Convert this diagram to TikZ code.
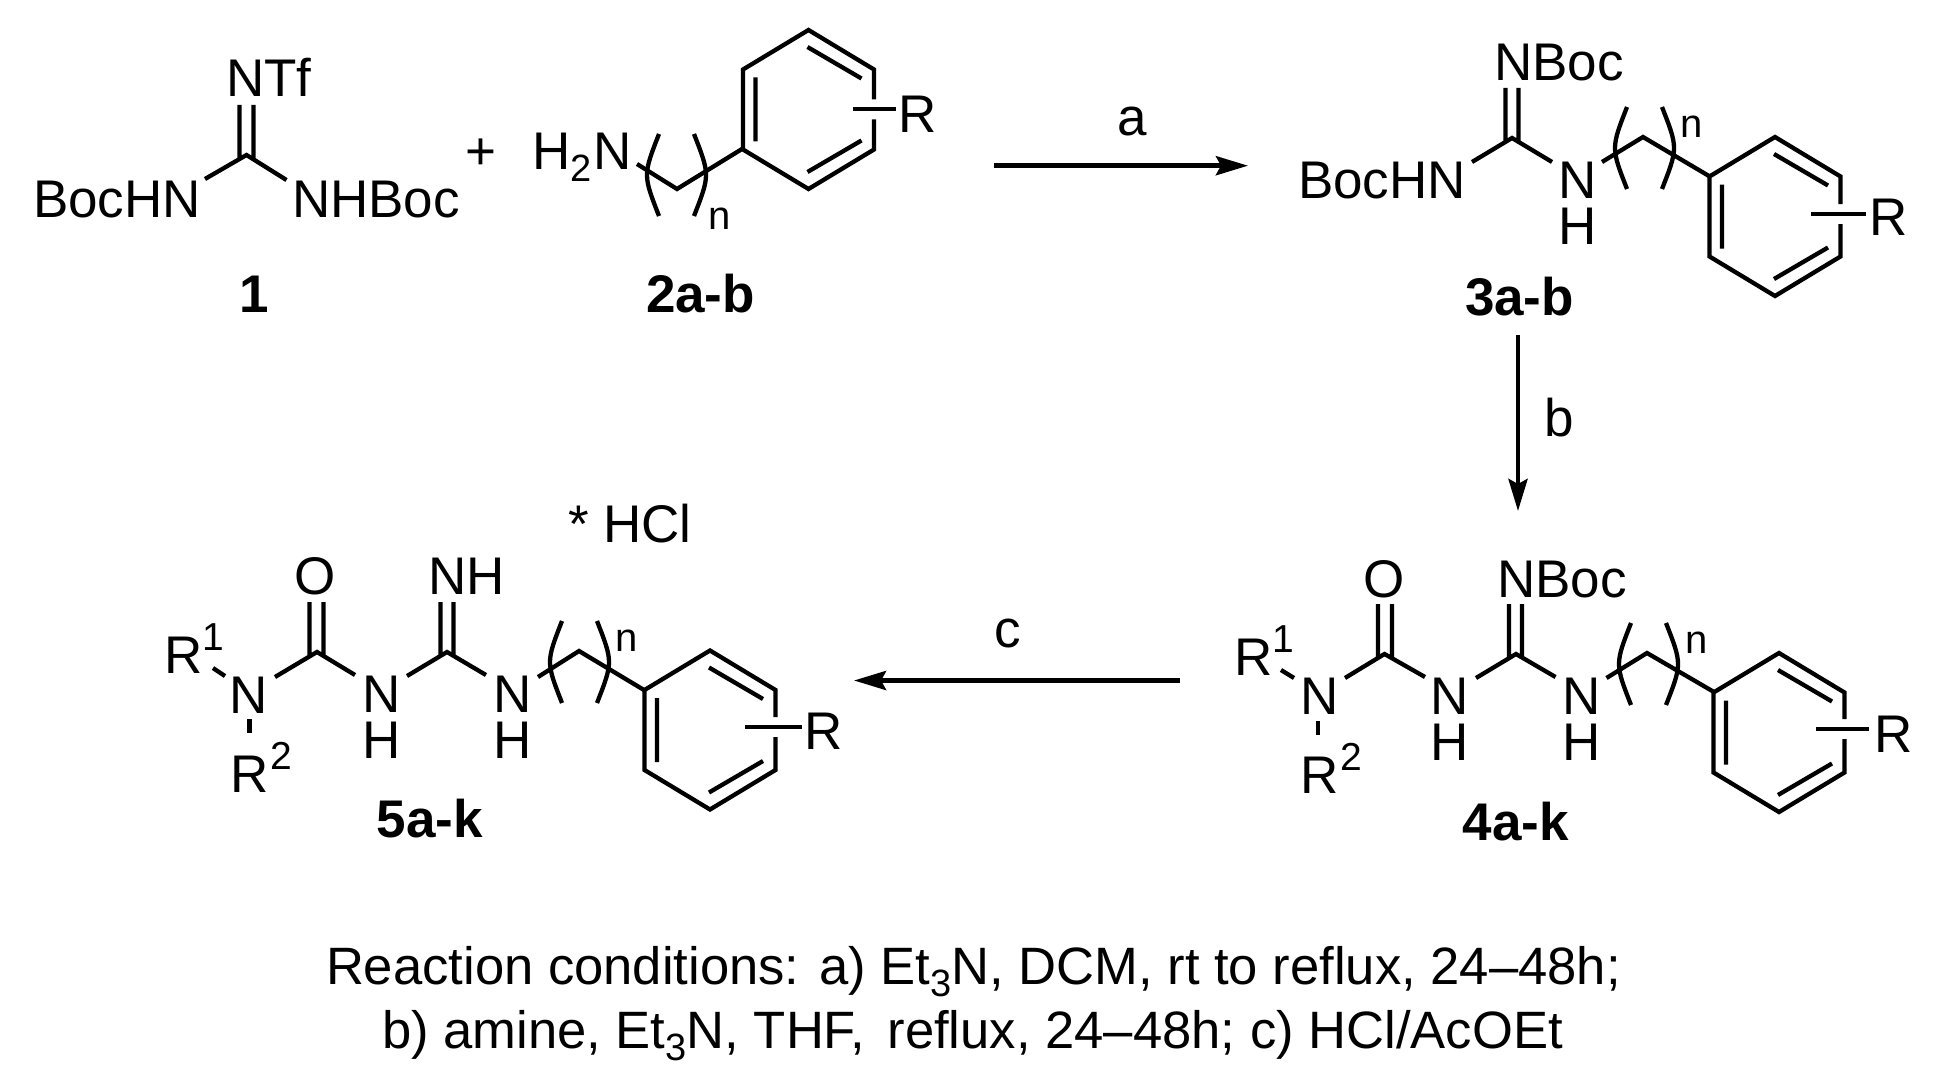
\documentclass[tikz,border=0pt]{standalone}
\usepackage{fontspec}
\setmainfont{Liberation Sans}
\usetikzlibrary{arrows.meta}
\tikzset{
  bond/.style={line width=4.3pt},
  rxn/.style={line width=4.6pt, -{Stealth[length=32pt, width=19pt, inset=5pt]}},
  atom/.style={font=\fontsize{53}{60}\selectfont, inner sep=0pt, outer sep=0pt, anchor=base},
  atomw/.style={atom, anchor=base west},
  idx/.style={font=\fontsize{40}{48}\selectfont, inner sep=0pt, outer sep=0pt, anchor=base west},
  cmpd/.style={atom, font=\fontsize{53}{60}\selectfont\bfseries},
  note/.style={atomw, font=\fontsize{52.6}{60}\selectfont}
}
\newcommand{\lowidx}[1]{\raisebox{-12pt}{\fontsize{38}{38}\selectfont #1}}
\newcommand{\upidx}[1]{\raisebox{23pt}{\fontsize{39}{39}\selectfont #1}}
% ring centre x, ring centre y, height of the R bond
\newcommand{\phring}[3]{
\begin{scope}[shift={(#1,#2)}]
\draw[bond] (65.5,#3-10) -- (65.5,-40) -- (0,-79.5) -- (-65.5,-40) -- (-65.5,40) -- (0,79.5) -- (65.5,40) -- (65.5,#3+10);
\draw[bond] (-1,-62.5) -- (53,-31)
(-53,-32) -- (-53,32)
(-1,62.5) -- (53,31);
\end{scope}}
% centre of the pair of brackets
\newcommand{\chainbrk}[2]{
\begin{scope}[shift={(#1,#2)}]
\draw[bond] (-17.5,-41) .. controls (-33.5,0) .. (-17.5,41)
(17.5,-41) .. controls (33.5,0) .. (17.5,41);
\end{scope}}
\begin{document}
\begin{tikzpicture}[x=1pt, y=-1pt]
\useasboundingbox (0,0) rectangle (1933,1089);

% 1
\draw[bond] (205,179) -- (246.5,155) -- (286.5,180)
(239.5,105) -- (239.5,158)
(253.5,105) -- (253.5,158);
\node[atomw] (tfn) at (226,97) {NTf};
\node[atomw] (bocl) at (33,217) {BocHN};
\node[atomw] (bocr) at (292,217) {NHBoc};
\node[atom] (plus) at (481,170) {+};
\node[cmpd] (lab1) at (254,312) {1};

% 2
\node[atomw] (amine) at (532,170) {H\lowidx{2}\kern2ptN};
\draw[bond] (637,164) -- (677,189) -- (742,149);
\chainbrk{676.5}{175}
\node[idx] (n2) at (708,229) {n};
\phring{808.5}{109.5}{0}
\draw[bond] (853,109) -- (896,109);
\node[atomw] (r2) at (898,132) {R};
\node[cmpd] (lab2) at (700.5,312) {2a-b};

% a
\coordinate (a0) at (994,165.7);
\coordinate (a1) at (1248,165.7);
\draw[rxn] (a0) -- (a1);
\node[atom] (la) at (1132,136) {a};

% 3
\draw[bond] (1472,162) -- (1512,138) -- (1552,162)
(1505.5,88) -- (1505.5,141)
(1518.5,88) -- (1518.5,141);
\node[atomw] (boc3) at (1494,81) {NBoc};
\node[atomw] (bocn3) at (1298,198) {BocHN};
\node[atom] (n3) at (1577.5,198) {N};
\node[atom] (h3) at (1577.5,244) {H};
\draw[bond] (1602,162) -- (1643,137) -- (1709,176);
\chainbrk{1644.5}{148}
\node[idx] (nn3) at (1680,138) {n};
\phring{1775}{216.5}{-2.5}
\draw[bond] (1811,214) -- (1866,214);
\node[atomw] (r3) at (1869,235) {R};
\node[cmpd] (lab3) at (1519.5,315) {3a-b};

% b
\coordinate (b0) at (1518,335);
\coordinate (b1) at (1518,511);
\draw[rxn] (b0) -- (b1);
\node[atom] (lb) at (1559,436.7) {b};

% 4
\node[atomw] (r14) at (1234,675) {R\upidx{1}};
\draw[bond] (1281,670) -- (1294,678);
\node[atom] (n14) at (1320,714) {N};
\draw[bond] (1318,721) -- (1318,735);
\node[atomw] (r24) at (1300,793) {R\kern2pt\upidx{2}};
\draw[bond] (1345,678) -- (1384.5,654) -- (1425,677)
(1378,604) -- (1378,657)
(1392,604) -- (1392,657);
\node[atom] (o4) at (1384.5,597) {O};
\node[atom] (n24) at (1450,714) {N};
\node[atom] (h24) at (1450,760) {H};
\draw[bond] (1476,678) -- (1516,654) -- (1555.5,677)
(1509,604) -- (1509,657)
(1522,604) -- (1522,657);
\node[atomw] (boc4) at (1497,597) {NBoc};
\node[atom] (n34) at (1581.5,714) {N};
\node[atom] (h34) at (1581.5,760) {H};
\draw[bond] (1606.5,678) -- (1647,653) -- (1714,692);
\chainbrk{1648.5}{664}
\node[idx] (nn4) at (1685,653) {n};
\phring{1779}{732.5}{-3.5}
\draw[bond] (1816,729) -- (1869,729);
\node[atomw] (r4) at (1874,752) {R};
\node[cmpd] (lab4) at (1516,840) {4a-k};

% c
\coordinate (c0) at (1180,680.5);
\coordinate (c1) at (854,680.5);
\draw[rxn] (c0) -- (c1);
\node[atom] (lc) at (1008,647) {c};

% 5
\node[atomw] (hcl) at (568,542) {* HCl};
\node[atomw] (r15) at (164,673) {R\upidx{1}};
\draw[bond] (213,668) -- (225,676);
\node[atom] (n15) at (249,713) {N};
\draw[bond] (249.5,719) -- (249.5,733);
\node[atomw] (r25) at (230,792) {R\kern2pt\upidx{2}};
\draw[bond] (275,677) -- (317,652) -- (355,675)
(309.5,602) -- (309.5,655)
(323.5,602) -- (323.5,655);
\node[atom] (o5) at (315.5,594) {O};
\node[atom] (n25) at (381.5,712) {N};
\node[atom] (h25) at (381.5,758) {H};
\draw[bond] (407,676) -- (447,652) -- (486,675)
(440.5,602) -- (440.5,655)
(453.5,602) -- (453.5,655);
\node[atomw] (nh5) at (428,594) {NH};
\node[atom] (n35) at (512.5,712) {N};
\node[atom] (h35) at (512.5,758) {H};
\draw[bond] (538,677) -- (579,651) -- (644,690);
\chainbrk{579.5}{662}
\node[idx] (nn5) at (615,651) {n};
\phring{710}{730}{-3}
\draw[bond] (745,727) -- (802,727);
\node[atomw] (r5) at (804,749) {R};
\node[cmpd] (lab5) at (430,837) {5a-k};

\node[note] (cond1) at (326,984) {Reaction conditions: a) Et\lowidx{3}N, DCM, rt to reflux, 24–48h;};
\node[note] (cond2) at (382,1048) {b) amine, Et\lowidx{3}N, THF,\hspace{8pt} reflux, 24–48h; c) HCl/AcOEt};
\end{tikzpicture}
\end{document}
